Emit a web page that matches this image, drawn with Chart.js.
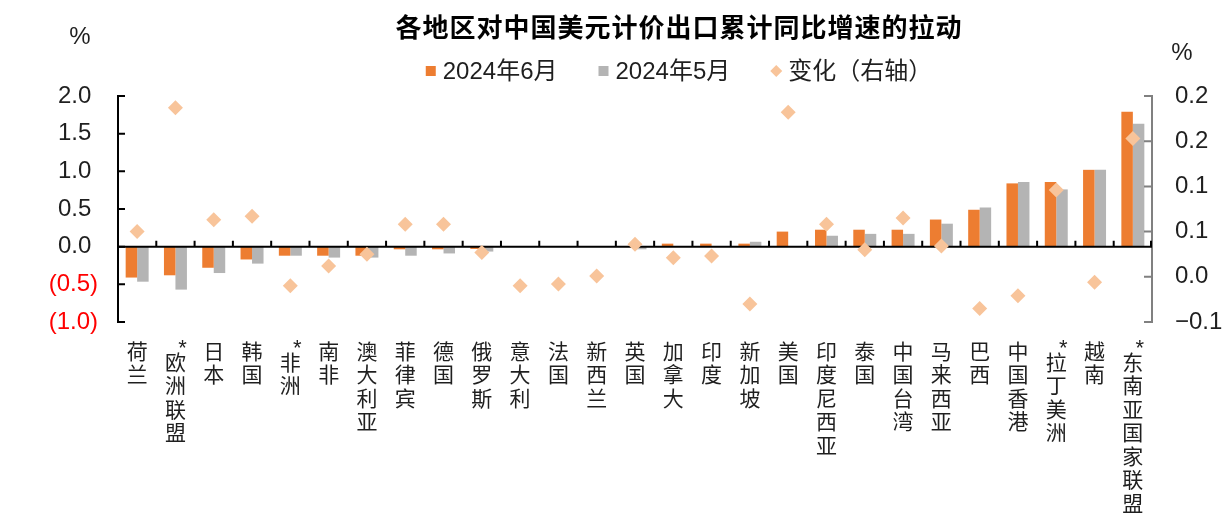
<!DOCTYPE html>
<html lang="zh-CN">
<head>
<meta charset="utf-8">
<title>各地区对中国美元计价出口累计同比增速的拉动</title>
<script src="https://cdn.jsdelivr.net/npm/chart.js@4.4.1/dist/chart.umd.min.js"></script>
<style>
    html, body { margin: 0; padding: 0; background: #ffffff; }
    #wrap { position: relative; width: 1224px; height: 514px; }
</style>
</head>
<body>
<div id="wrap"><canvas id="pullChart"></canvas></div>
<script>
// Datos del gráfico
const categories = ['荷兰', '欧洲联盟', '日本', '韩国', '非洲', '南非', '澳大利亚', '菲律宾', '德国', '俄罗斯',
    '意大利', '法国', '新西兰', '英国', '加拿大', '印度', '新加坡', '美国', '印度尼西亚', '泰国',
    '中国台湾', '马来西亚', '巴西', '中国香港', '拉丁美洲', '越南', '东南亚国家联盟'];
const starred = ['欧洲联盟', '非洲', '拉丁美洲', '东南亚国家联盟'];

const june = [-0.41, -0.38, -0.28, -0.17, -0.12, -0.12, -0.12, -0.035, -0.035, -0.03,
    0, 0, 0, -0.005, 0.04, 0.04, 0.04, 0.20, 0.225, 0.225,
    0.225, 0.36, 0.49, 0.84, 0.86, 1.02, 1.79];
const may = [-0.465, -0.57, -0.35, -0.225, -0.12, -0.145, -0.145, -0.12, -0.09, -0.065,
    0, 0, 0, -0.035, 0, 0, 0.065, 0, 0.145, 0.17,
    0.17, 0.305, 0.52, 0.86, 0.76, 1.02, 1.63];
const change = [0.050, 0.187, 0.063, 0.067, -0.010, 0.012, 0.025, 0.058, 0.058, 0.027,
    -0.010, -0.008, 0.001, 0.036, 0.021, 0.023, -0.030, 0.182, 0.058, 0.030,
    0.065, 0.034, -0.035, -0.021, 0.096, -0.006, 0.153];

const seriesNames = ['2024年6月', '2024年5月', '变化（右轴）'];
const leftTickLabels = ['(1.0)', '(0.5)', '0.0', '0.5', '1.0', '1.5', '2.0'];
const rightTickLabels = ['−0.1', '0.0', '0.1', '0.1', '0.2', '0.2'];

const chartTitle = '各地区对中国美元计价出口累计同比增速的拉动';

const LATIN = '"Liberation Sans", "Noto Sans CJK SC", sans-serif';
const CJK = '"Noto Sans CJK SC", sans-serif';
const INK = '#1f1f1f';

Chart.defaults.font.family = LATIN;
Chart.defaults.color = INK;

// Título, leyenda, etiquetas verticales y marcas de los ejes
const decorations = {
    id: 'decorations',
    afterDatasetDraw(chart, args) {
        // la línea del cero va sobre las barras y bajo los rombos
        if (args.index !== 0) return;
        const ctx = chart.ctx;
        const area = chart.chartArea;
        const x = chart.scales.x;
        const y0 = chart.scales.y.getPixelForValue(0);
        ctx.save();
        ctx.strokeStyle = '#000000';
        ctx.lineWidth = 2;
        ctx.beginPath();
        ctx.moveTo(area.left, y0);
        ctx.lineTo(area.right, y0);
        for (let i = 1; i <= categories.length; i++) {
            const bx = i < categories.length
                ? (x.getPixelForValue(i - 1) + x.getPixelForValue(i)) / 2
                : area.right - 1;
            ctx.moveTo(bx, y0);
            ctx.lineTo(bx, y0 - 6);
        }
        ctx.stroke();
        ctx.restore();
    },
    afterDraw(chart) {
        const ctx = chart.ctx;
        const area = chart.chartArea;
        const x = chart.scales.x;
        const yL = chart.scales.y;
        const yR = chart.scales.y1;
        ctx.save();

        // marcas hacia dentro en ambos ejes verticales
        ctx.lineWidth = 2;
        ctx.strokeStyle = '#000000';
        ctx.beginPath();
        yL.ticks.forEach(t => {
            const py = yL.getPixelForValue(t.value);
            ctx.moveTo(area.left, py);
            ctx.lineTo(area.left + 7, py);
        });
        ctx.stroke();
        ctx.strokeStyle = '#808080';
        ctx.beginPath();
        yR.ticks.forEach(t => {
            const py = yR.getPixelForValue(t.value);
            ctx.moveTo(area.right, py);
            ctx.lineTo(area.right - 8, py);
        });
        ctx.stroke();

        // título
        ctx.fillStyle = '#000000';
        ctx.textAlign = 'center';
        ctx.textBaseline = 'middle';
        ctx.font = 'bold 26px ' + CJK;
        if ('letterSpacing' in ctx) ctx.letterSpacing = '1px';
        ctx.fillText(chartTitle, 679, 27);
        if ('letterSpacing' in ctx) ctx.letterSpacing = '0px';

        // leyenda
        ctx.font = '24px ' + LATIN;
        const box = 10, gap = 7, spacing = 41;
        const items = chart.data.datasets.map(ds => ({
            text: ds.label,
            color: ds.type === 'line' ? ds.pointBackgroundColor : ds.backgroundColor,
            diamond: ds.type === 'line',
            w: box + gap + ctx.measureText(ds.label).width
        }));
        const total = items.reduce((s, it) => s + it.w, 0) + spacing * (items.length - 1);
        let lx = 679 - total / 2;
        const ly = 71;
        items.forEach(it => {
            ctx.fillStyle = it.color;
            if (it.diamond) {
                const cx = lx + box / 2, r = 6;
                ctx.beginPath();
                ctx.moveTo(cx - r, ly);
                ctx.lineTo(cx, ly - r);
                ctx.lineTo(cx + r, ly);
                ctx.lineTo(cx, ly + r);
                ctx.closePath();
                ctx.fill();
            } else {
                ctx.fillRect(lx, ly - box / 2, box, box);
            }
            ctx.fillStyle = INK;
            ctx.textAlign = 'left';
            ctx.fillText(it.text, lx + box + gap, ly + 1);
            lx += it.w + spacing;
        });

        // unidades
        ctx.textAlign = 'center';
        ctx.font = '24px ' + LATIN;
        ctx.fillText('%', 80, 37);
        ctx.fillText('%', 1182, 53);

        // categorías en vertical, un carácter por línea
        const pitch = 23.5;
        categories.forEach((name, i) => {
            const cx = x.getPixelForValue(i);
            const star = starred.includes(name);
            const top = star ? 362 : 351;
            ctx.font = '21px ' + CJK;
            ctx.textAlign = 'center';
            ctx.textBaseline = 'middle';
            Array.from(name).forEach((ch, k) => ctx.fillText(ch, cx, top + k * pitch));
            if (star) {
                ctx.font = '22px ' + LATIN;
                ctx.textBaseline = 'alphabetic';
                ctx.fillText('*', cx + 7, 355);
            }
        });
        ctx.restore();
    }
};

const chartCtx = document.getElementById('pullChart').getContext('2d');
new Chart(chartCtx, {
    type: 'bar',
    data: {
        labels: categories,
        datasets: [{
            label: seriesNames[0],
            data: june,
            backgroundColor: '#ED7D31',
            yAxisID: 'y',
            order: 1
        }, {
            label: seriesNames[1],
            data: may,
            backgroundColor: '#B4B4B4',
            yAxisID: 'y',
            order: 1
        }, {
            type: 'line',
            label: seriesNames[2],
            data: change,
            yAxisID: 'y1',
            showLine: false,
            pointStyle: 'rectRot',
            pointRadius: 7.5,
            pointHoverRadius: 7.5,
            pointBackgroundColor: '#F8C49A',
            pointBorderWidth: 0,
            order: 0
        }]
    },
    options: {
        responsive: true,
        maintainAspectRatio: false,
        animation: false,
        layout: {
            padding: { top: 96, left: 0, right: 0, bottom: 0 }
        },
        datasets: {
            bar: { categoryPercentage: 0.6, barPercentage: 1.0 }
        },
        plugins: {
            legend: { display: false },
            title: { display: false },
            tooltip: { enabled: false }
        },
        scales: {
            x: {
                grid: { display: false },
                border: { display: false },
                ticks: { display: false },
                afterFit: function(scale) { scale.height = 192; }
            },
            y: {
                position: 'left',
                min: -1,
                max: 2,
                grid: { display: false, drawTicks: false },
                border: { color: '#000000', width: 2 },
                ticks: {
                    stepSize: 0.5,
                    padding: 20,
                    font: { size: 24 },
                    color: function(c) {
                        return c.tick && c.tick.value < 0 ? '#FF0000' : INK;
                    },
                    callback: function(value, index) {
                        return leftTickLabels[index] + (value >= 0 ? ' ' : '');
                    }
                },
                afterFit: function(scale) { scale.width = 118; }
            },
            y1: {
                position: 'right',
                min: -0.05,
                max: 0.2,
                grid: { display: false, drawTicks: false },
                border: { color: '#808080', width: 2 },
                ticks: {
                    stepSize: 0.05,
                    padding: 23,
                    font: { size: 24 },
                    color: INK,
                    callback: function(value, index) {
                        return rightTickLabels[index];
                    }
                },
                afterFit: function(scale) { scale.width = 72; }
            }
        }
    },
    plugins: [decorations]
});
</script>
</body>
</html>
